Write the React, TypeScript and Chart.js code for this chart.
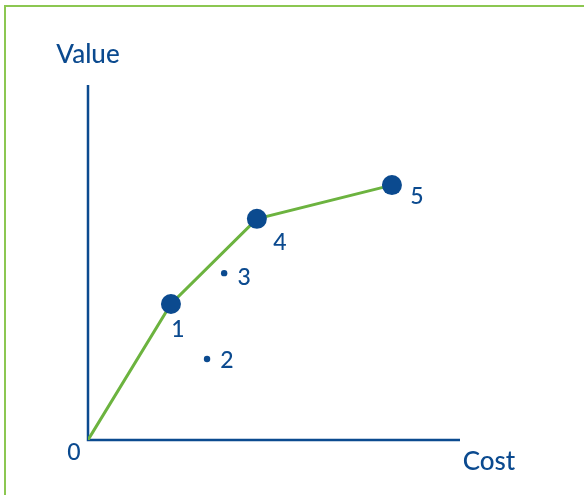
import React, { useEffect, useRef } from "react";
import { Chart, registerables } from "chart.js";

Chart.register(...registerables);

// ---- data ----
const pointNames = ["1", "2", "3", "4", "5"];
const costValues = [2.23, 3.2, 3.66, 4.54, 8.17];
const valueValues = [3.83, 2.28, 4.7, 6.23, 7.18];
const isEfficient = [true, false, false, true, true];
const xAxisTitle = "Cost";
const yAxisTitle = "Value";
const originLabel = "0";

// ---- style ----
const BLUE = "#0b4a8f";
const GREEN = "#6cb33f";
const FONT = "Lato, 'Open Sans', sans-serif";
// label offsets (px) relative to each point
const labelOffsets = [
  [7, 26],
  [20, 2],
  [20, 4],
  [23, 24],
  [25, 11],
];

const frontier = [{ x: 0, y: 0 }].concat(
  costValues
    .map((c, i) => ({ x: c, y: valueValues[i], e: isEfficient[i] }))
    .filter((p) => p.e)
    .map((p) => ({ x: p.x, y: p.y }))
);

const axesPlugin = {
  id: "axesPlugin",
  beforeDatasetsDraw(chart: any) {
    const { ctx, chartArea } = chart;
    const xs = chart.scales.x;
    const ys = chart.scales.y;
    const x0 = xs.getPixelForValue(0);
    const y0 = ys.getPixelForValue(0);
    ctx.save();
    ctx.strokeStyle = BLUE;
    ctx.lineWidth = 2.5;
    ctx.beginPath();
    ctx.moveTo(x0, chartArea.top);
    ctx.lineTo(x0, y0);
    ctx.lineTo(chartArea.right, y0);
    ctx.stroke();
    ctx.fillStyle = BLUE;
    ctx.font = `500 26px ${FONT}`;
    ctx.textAlign = "center";
    ctx.textBaseline = "middle";
    ctx.fillText(yAxisTitle, x0, chartArea.top - 30);
    ctx.fillText(xAxisTitle, chartArea.right + 29, y0 + 22);
    ctx.font = `500 23px ${FONT}`;
    ctx.fillText(originLabel, x0 - 14, y0 + 13);
    ctx.restore();
  },
  afterDatasetsDraw(chart: any) {
    const { ctx } = chart;
    const meta = chart.getDatasetMeta(1);
    ctx.save();
    ctx.fillStyle = BLUE;
    ctx.font = `500 23px ${FONT}`;
    ctx.textAlign = "center";
    ctx.textBaseline = "middle";
    meta.data.forEach((el: any, i: number) => {
      const [dx, dy] = labelOffsets[i];
      ctx.fillText(pointNames[i], el.x + dx, el.y + dy);
    });
    ctx.restore();
  },
};

export default function App() {
  const ref = useRef<HTMLCanvasElement>(null);
  useEffect(() => {
    if (!ref.current) return;
    const chart = new Chart(ref.current, {
      type: "scatter",
      data: {
        datasets: [
          {
            type: "line",
            data: frontier,
            borderColor: GREEN,
            borderWidth: 3,
            pointRadius: 0,
            fill: false,
            tension: 0,
            order: 2,
          } as any,
          {
            data: costValues.map((c, i) => ({ x: c, y: valueValues[i] })),
            backgroundColor: BLUE,
            borderColor: BLUE,
            borderWidth: 0,
            pointRadius: isEfficient.map((e) => (e ? 10 : 3.2)),
            order: 1,
          },
        ],
      },
      options: {
        animation: false,
        responsive: false,
        maintainAspectRatio: false,
        layout: { padding: { left: 88, right: 124, top: 85, bottom: 55 } },
        scales: {
          x: { type: "linear", min: 0, max: 10, display: false },
          y: { type: "linear", min: 0, max: 10, display: false },
        },
        plugins: {
          legend: { display: false },
          tooltip: { enabled: false },
        },
      },
      plugins: [axesPlugin],
    });
    return () => chart.destroy();
  }, []);
  return (
    <div style={{ position: "fixed", left: 0, top: 0, width: 584, height: 495, background: "#fff", overflow: "hidden" }}>
      <div
        style={{
          position: "absolute",
          left: 4,
          top: 5,
          width: 600,
          height: 520,
          border: "2px solid #8cc751",
          boxSizing: "border-box",
        }}
      />
      <canvas ref={ref} width={584} height={495} style={{ position: "absolute", left: 0, top: 0 }} />
    </div>
  );
}
